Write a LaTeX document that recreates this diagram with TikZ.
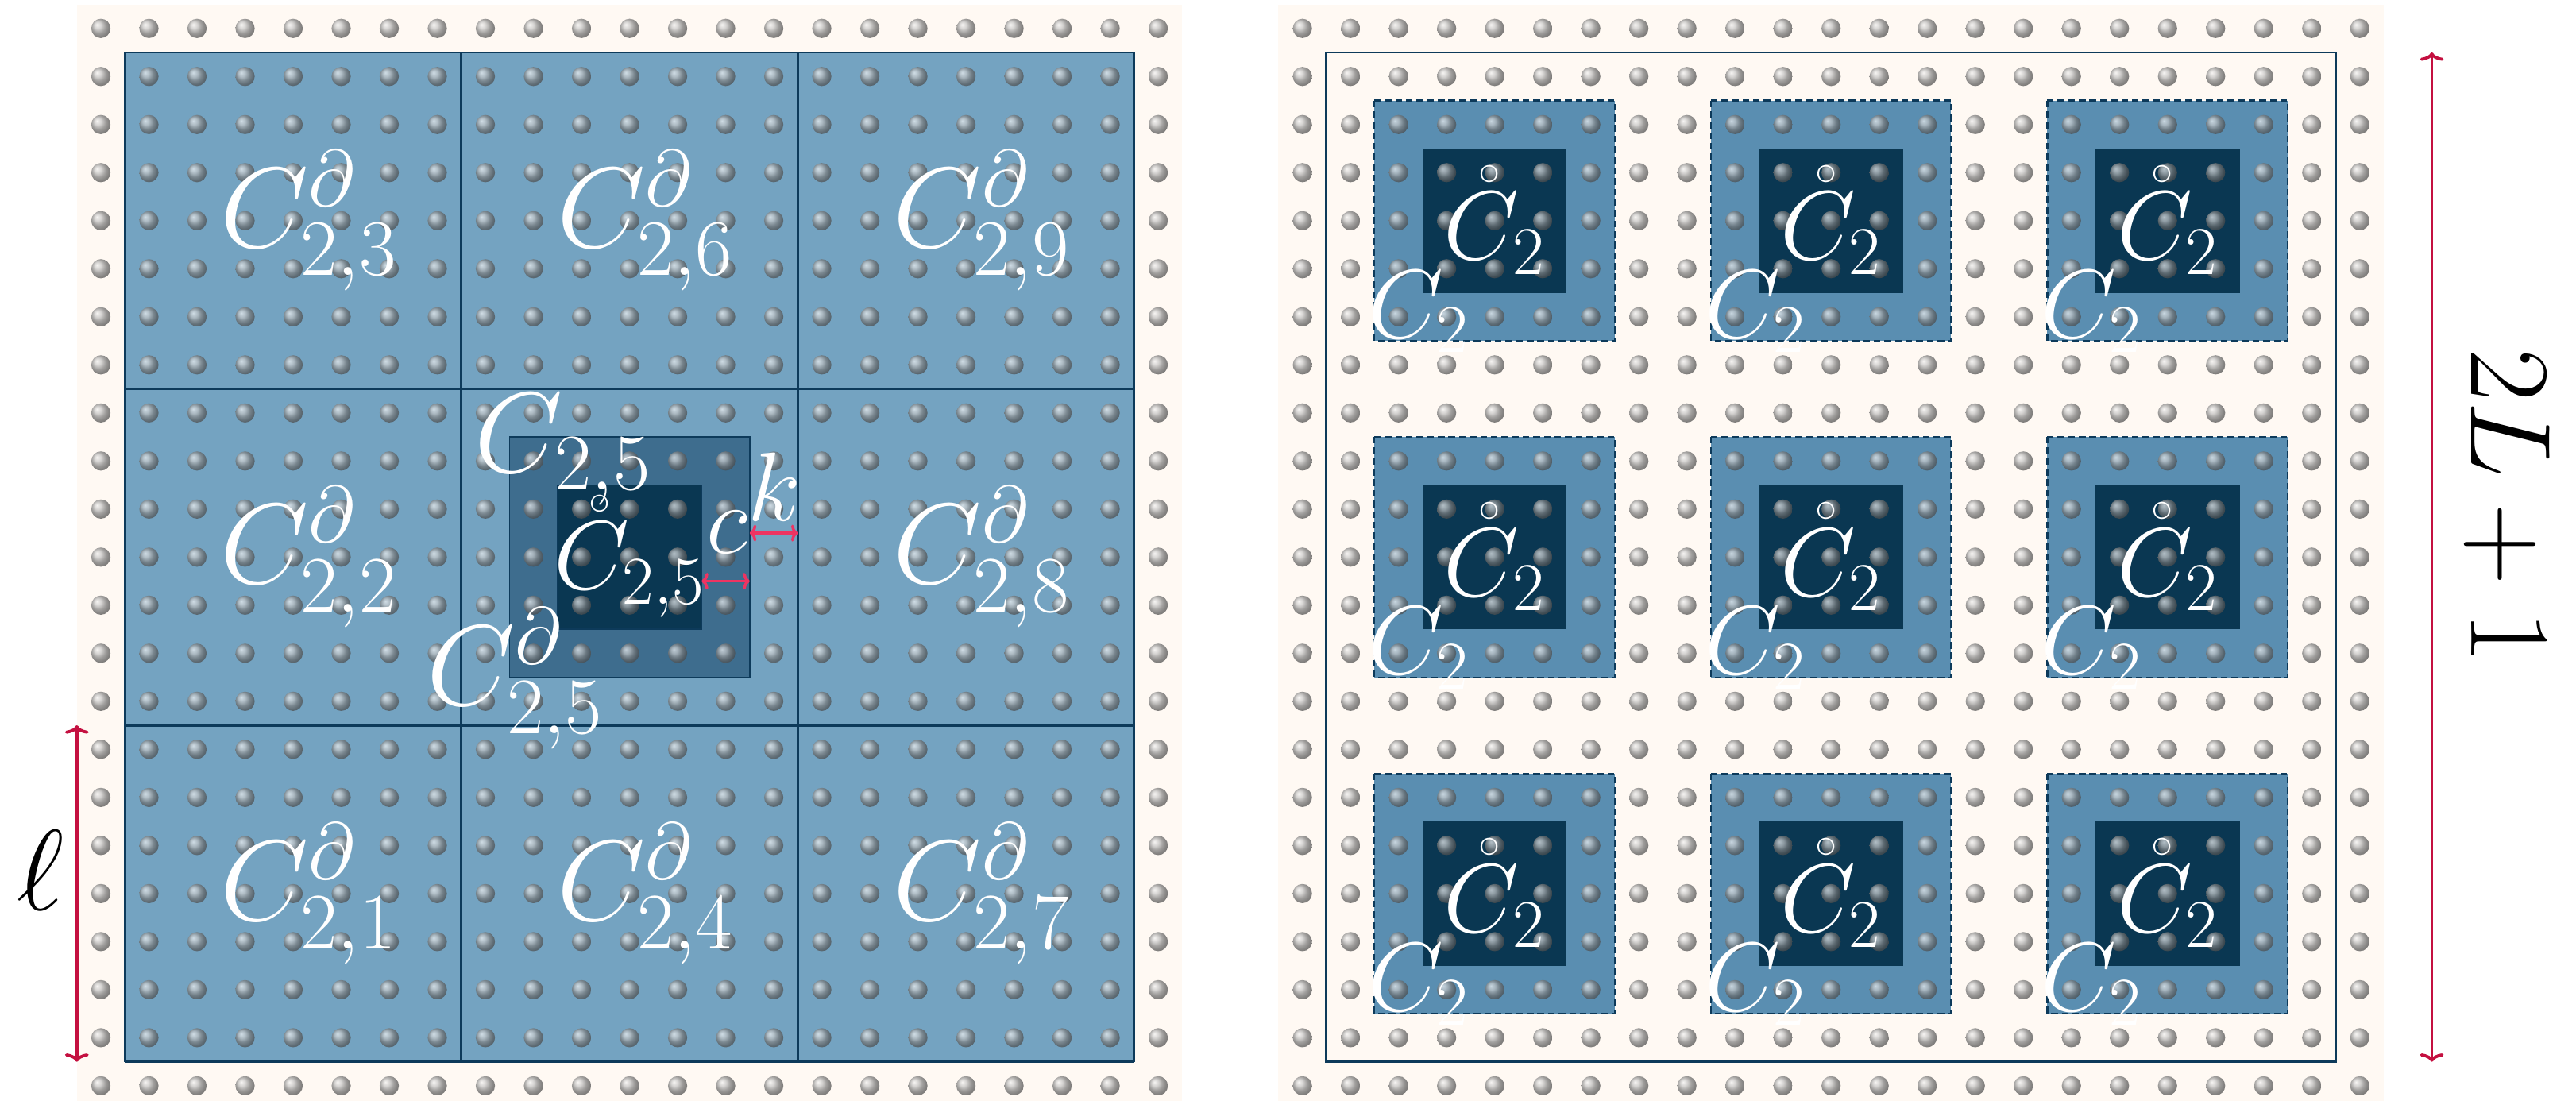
\RequirePackage{fix-cm}
\documentclass[tikz,border=0pt]{standalone}
\usetikzlibrary{arrows.meta, calc}
\definecolor{cream}{HTML}{FFF9F3}
\definecolor{cell}{HTML}{74A3C1}
\definecolor{shell}{HTML}{3E6D8E}
\definecolor{core}{HTML}{0A3752}
\definecolor{patch}{HTML}{5A8EB1}
\definecolor{rim}{HTML}{0D3A5A}
\definecolor{lenc}{HTML}{C41040}
\definecolor{gapc}{HTML}{EE3462}

\begin{document}
\begin{tikzpicture}[
    x=0.605cm, y=0.605cm,
    atom/.style={shading=ball, ball color=gray!60!white, opacity=0.72},
    lblbig/.style={text=white, inner sep=0pt, font=\fontsize{41}{49}\selectfont},
    lblmid/.style={text=white, inner sep=0pt, font=\fontsize{35}{42}\selectfont},
    edgeline/.style={draw=rim, line width=0.8pt},
    patchbox/.style={fill=patch, draw=rim, line width=0.6pt, dash pattern=on 2.4pt off 1.4pt},
    lenarr/.style={{To[length=3pt,width=8.5pt]}-{To[length=3pt,width=8.5pt]}, draw=lenc, line width=1.1pt},
    gaparr/.style={{To[length=2.4pt,width=6pt]}-{To[length=2.4pt,width=6pt]}, draw=gapc, line width=1pt},
  ]
  \useasboundingbox (-2.099,0.591) rectangle (51.5,-22.3);
  \clip (-2.099,0.591) rectangle (51.5,-22.3);
  % ---- left lattice: 3x3 cells
  \fill[cream] (-0.5,0.5) rectangle (22.5,-22.5);
  \fill[cell] (0.5,-0.5) rectangle (21.5,-21.5);
  \foreach \k in {0,...,3} {
    \draw[edgeline] (0.5+7*\k,-0.5) -- (0.5+7*\k,-21.5);
    \draw[edgeline] (0.5,-0.5-7*\k) -- (21.5,-0.5-7*\k);
  }
  \filldraw[fill=shell, draw=rim, line width=0.4pt] (8.5,-8.5) rectangle (13.5,-13.5);
  \filldraw[fill=core, draw=rim, line width=0.4pt] (9.5,-9.5) rectangle (12.5,-12.5);
  % ---- right lattice: frame and 9 patches
  \fill[cream] (24.5,0.5) rectangle (47.5,-22.5);
  \draw[edgeline] (25.5,-0.5) rectangle (46.5,-21.5);
  \foreach \a in {0,1,2} \foreach \b in {0,1,2} {
    \filldraw[patchbox] (26.5+7*\a,-1.5-7*\b) rectangle +(5,-5);
    \fill[core] (27.5+7*\a,-2.5-7*\b) rectangle +(3,-3);
  }
  % ---- atoms
  \foreach \i in {0,...,22} \foreach \j in {0,...,22} {
    \shade[atom] (\i,-\j) circle[radius=0.2];
    \shade[atom] (\i+25,-\j) circle[radius=0.2];
  }
  % ---- cell labels
  \foreach \c in {0,1,2} \foreach \r in {0,1,2} {
    \pgfmathtruncatemacro{\n}{3*\c+3-\r}
    \ifnum\n=5 \else
      \node[lblbig] (cb\n) at (4.33+7*\c,-4-7*\r) {$C^{\partial}_{2,\n}$};
    \fi
  }
  \node[lblbig] (c25) at (9.62,-8.76) {$C_{2,5}$};
  \node[lblmid] (c25in) at (11,-11) {$\mathring{C}_{2,5}$};
  \node[lblbig] (c25bd) at (8.62,-13.53) {$C^{\partial}_{2,5}$};
  % ---- c and k
  \coordinate (cin) at (12.5,-11.5);
  \coordinate (cout) at (13.5,-11.5);
  \coordinate (kin) at (13.5,-10.5);
  \coordinate (kout) at (14.5,-10.5);
  \draw[gaparr] (cin) -- (cout);
  \draw[gaparr] (kin) -- (kout);
  \node[lblmid] (clab) at (13.03,-10.49) {$c$};
  \node[lblmid] (klab) at (14.02,-9.53) {$k$};
  % ---- right labels
  \foreach \a in {0,1,2} \foreach \b in {0,1,2} {
    \node[lblmid] (in\a\b) at (29+7*\a,-4-7*\b) {$\mathring{C}_2$};
    \node[lblmid, anchor=base west] (bd\a\b) at (26.36+7*\a,-6.44-7*\b) {$C_2$};
  }
  % ---- lengths
  \coordinate (ltop) at (-0.5,-14.5);
  \coordinate (lbot) at (-0.5,-21.5);
  \draw[lenarr] (ltop) -- (lbot) node[pos=0.43, left=4pt, inner sep=0pt, font=\fontsize{41}{49}\selectfont] (ell) {$\ell$};
  \coordinate (Ltop) at (48.5,-0.5);
  \coordinate (Lbot) at (48.5,-21.5);
  \draw[lenarr] (Ltop) -- (Lbot);
  \node[rotate=-90, inner sep=0pt, font=\fontsize{41}{49}\selectfont] (twoL) at ($(Ltop)!0.45!(Lbot)+(1.57,0)$) {$2L+1$};
\end{tikzpicture}
\end{document}
